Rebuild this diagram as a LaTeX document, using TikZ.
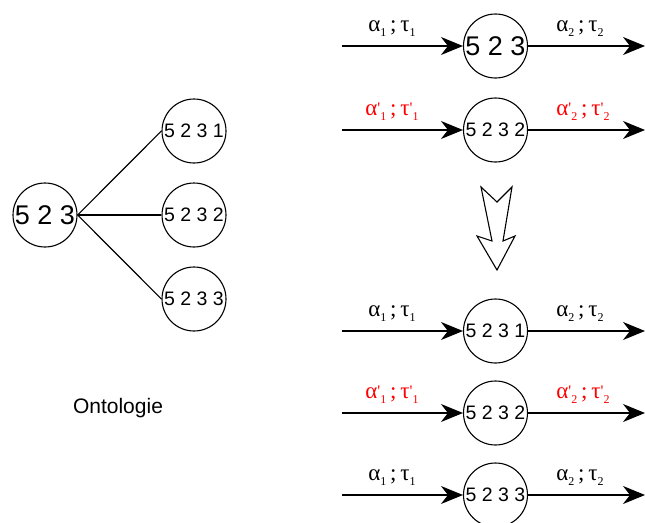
\documentclass[tikz,border=0pt]{standalone}
\usepackage{fontspec}
\setmainfont{Liberation Serif}
\setsansfont{Liberation Sans}
\usetikzlibrary{arrows.meta}
\newcommand{\sbx}[1]{\raisebox{-0.5ex}{\fontsize{12}{12}\selectfont #1}}
\newcommand{\prm}{\raisebox{0.1ex}{\fontsize{16}{16}\selectfont\textquotesingle}}
\tikzset{
  bigc/.style={circle, draw, line width=1.1pt, minimum size=64pt, inner sep=0pt,
    font=\sffamily\fontsize{27}{27}\selectfont},
  smallc/.style={circle, draw, line width=1.1pt, minimum size=64pt, inner sep=0pt,
    font=\sffamily\fontsize{19.5}{19.5}\selectfont},
  flow/.style={line width=1.2pt, -{Stealth[length=22pt,width=18pt,inset=7pt]}},
  lab/.style={font=\fontsize{23}{23}\selectfont, anchor=base, inner sep=0pt},
  redlab/.style={lab, text=red},
  edgeline/.style={line width=1.1pt},
  txt/.style={font=\sffamily\fontsize{21}{21}\selectfont}
}
\begin{document}
\begin{tikzpicture}[x=1pt,y=-1pt]
\useasboundingbox (0,0) rectangle (645,522);
\clip (0,0) rectangle (645,522);

% ontology tree
\node[bigc] (L) at (45,215) {5 2 3};
\node[smallc] (t1) at (194,131) {5 2 3 1};
\node[smallc] (t2) at (194,215) {5 2 3 2};
\node[smallc] (t3) at (194,299) {5 2 3 3};
\draw[edgeline] (L.east) -- (t1.west);
\draw[edgeline] (L.east) -- (t2.west);
\draw[edgeline] (L.east) -- (t3.west);
\node[txt] (onto) at (118,408) {Ontologie};

% right column circles
\node[bigc] (r1) at (495.5,46) {5 2 3};
\node[smallc] (r2) at (495.5,130) {5 2 3 2};
\node[smallc] (r3) at (495.5,331) {5 2 3 1};
\node[smallc] (r4) at (495.5,413) {5 2 3 2};
\node[smallc] (r5) at (495.5,495) {5 2 3 3};

% free ends
\foreach \n/\y in {1/46,2/130,3/331,4/413,5/495}{
  \coordinate (s\n) at (342,\y);
  \coordinate (e\n) at (645,\y);
  \draw[flow] (s\n) -- (r\n.west);
  \draw[flow] (r\n.east) -- (e\n);
}

% labels
\node[lab] (a1) at (392,31) {α\sbx{1}\,;\,τ\sbx{1}};
\node[lab] (b1) at (580,31) {α\sbx{2}\,;\,τ\sbx{2}};
\node[redlab] (a2) at (392,115) {α\prm\sbx{1}\,;\,τ\prm\sbx{1}};
\node[redlab] (b2) at (583,115) {α\prm\sbx{2}\,;\,τ\prm\sbx{2}};
\node[lab] (a3) at (392,316) {α\sbx{1}\,;\,τ\sbx{1}};
\node[lab] (b3) at (580,316) {α\sbx{2}\,;\,τ\sbx{2}};
\node[redlab] (a4) at (392,398) {α\prm\sbx{1}\,;\,τ\prm\sbx{1}};
\node[redlab] (b4) at (583,398) {α\prm\sbx{2}\,;\,τ\prm\sbx{2}};
\node[lab] (a5) at (392,480) {α\sbx{1}\,;\,τ\sbx{1}};
\node[lab] (b5) at (580,480) {α\sbx{2}\,;\,τ\sbx{2}};

% big hollow down arrow
\draw[line width=1.1pt, line join=miter]
  (481,187) -- (497,202) -- (512,187) -- (503,241) -- (515,236)
  -- (497,270) -- (477,236) -- (492,241) -- cycle;
\end{tikzpicture}
\end{document}
